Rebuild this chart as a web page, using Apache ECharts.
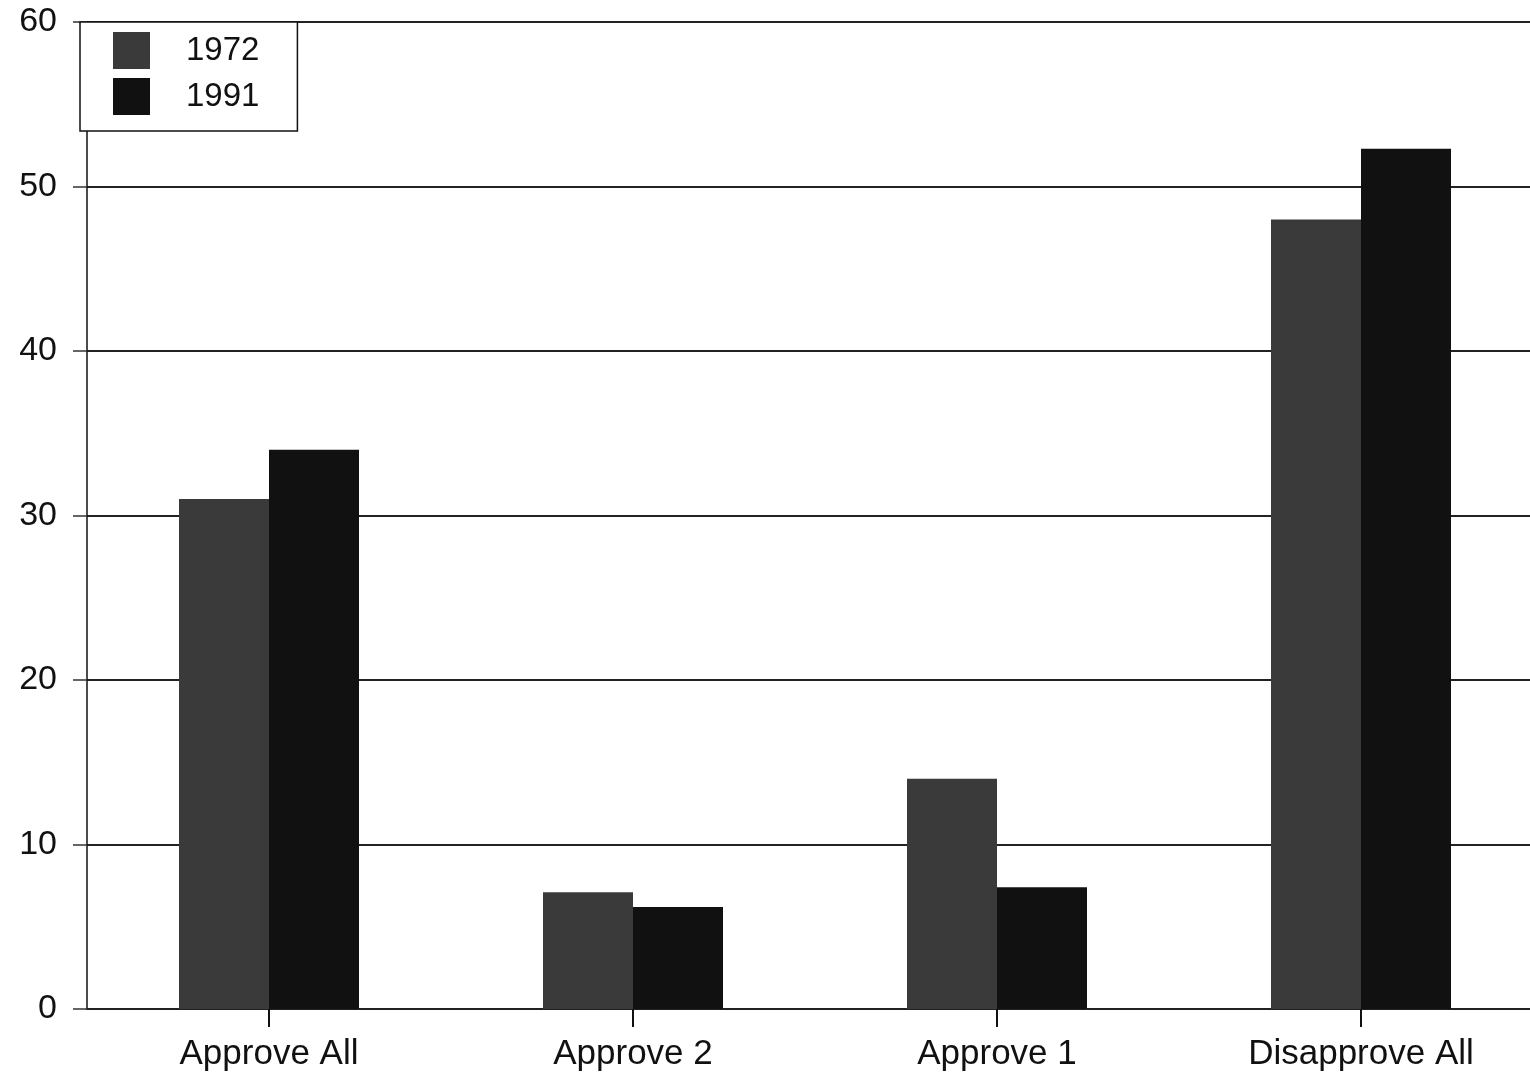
<!DOCTYPE html>
<html><head><meta charset="utf-8">
<script src="https://cdn.jsdelivr.net/npm/echarts@6/dist/echarts.min.js"></script>
<style>html,body{margin:0;padding:0;background:#fff}#c{width:1530px;height:1077px}</style>
</head><body><div id="c"></div>
<script>
const categories = ['Approve All', 'Approve 2', 'Approve 1', 'Disapprove All'];
const v1972 = [31, 7.1, 14, 48];
const v1991 = [34, 6.2, 7.4, 52.3];
const yTicks = [0, 10, 20, 30, 40, 50, 60];

const chart = echarts.init(document.getElementById('c'), null, {renderer: 'canvas'});
const font = '"Liberation Sans", Arial, sans-serif';
chart.setOption({
  animation: false,
  backgroundColor: '#fff',
  grid: {left: 87, width: 1456, top: 22, bottom: 68, containLabel: false, outerBoundsMode: 'none'},
  legend: {
    orient: 'vertical', left: 80, top: 22,
    data: ['1972', '1991'],
    icon: 'rect',
    itemWidth: 37, itemHeight: 37, itemGap: 9,
    padding: [10, 38, 16, 33],
    borderColor: '#111', borderWidth: 1.5,
    backgroundColor: '#fff',
    textStyle: {fontFamily: font, fontSize: 33, color: '#111', padding: [0, 0, 0, 31]}
  },
  xAxis: {
    type: 'category', data: categories,
    axisLine: {show: true, lineStyle: {color: '#222', width: 2}},
    axisTick: {show: true, alignWithLabel: true, length: 18, lineStyle: {color: '#111', width: 2}},
    axisLabel: {fontFamily: font, fontSize: 35, color: '#111', margin: 28},
    splitLine: {show: false}
  },
  yAxis: {
    type: 'value', min: yTicks[0], max: yTicks[yTicks.length - 1], interval: 10,
    axisLine: {show: true, lineStyle: {color: '#111', width: 1.5}},
    axisTick: {show: true, inside: false, length: 14, lineStyle: {color: '#333', width: 1.5}},
    axisLabel: {fontFamily: font, fontSize: 34, color: '#111', margin: 30},
    splitLine: {show: true, lineStyle: {color: '#222', width: 2}}
  },
  series: [
    {name: '1972', type: 'bar', data: v1972, barWidth: 90, barGap: '0%',
     itemStyle: {color: '#3a3a3a'}},
    {name: '1991', type: 'bar', data: v1991, barWidth: 90, barGap: '0%',
     itemStyle: {color: '#111'}}
  ]
});
</script></body></html>
